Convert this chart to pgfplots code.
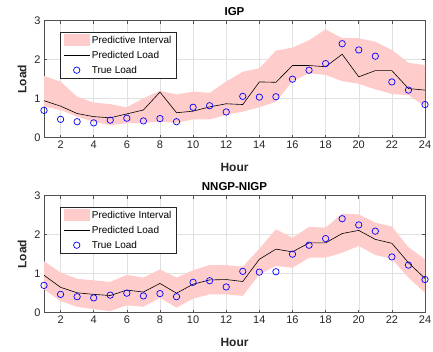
\documentclass[border=0pt]{standalone}
\usepackage{fontspec}
\setmainfont{Liberation Sans}
\usepackage{pgfplots}
\usepackage{pgfplotstable}
\pgfplotsset{compat=1.18}
\usepgfplotslibrary{fillbetween}
\definecolor{bandpink}{RGB}{255,204,204}
\definecolor{axgray}{RGB}{38,38,38}

\pgfplotstableread{
h true pA uA lA pB uB lB
1 0.70 0.95 1.58 0.80 0.96 1.32 0.60
2 0.47 0.81 1.44 0.71 0.65 1.03 0.30
3 0.41 0.62 1.05 0.54 0.51 0.87 0.15
4 0.38 0.54 0.90 0.41 0.47 0.83 0.09
5 0.45 0.51 0.86 0.32 0.44 0.79 0.04
6 0.50 0.61 0.78 0.37 0.58 0.97 0.19
7 0.43 0.71 1.01 0.38 0.53 0.90 0.15
8 0.49 1.17 1.20 0.41 0.75 1.11 0.38
9 0.41 0.64 1.11 0.38 0.50 0.90 0.13
10 0.78 0.68 1.18 0.47 0.73 1.09 0.36
11 0.82 0.79 1.15 0.47 0.84 1.22 0.47
12 0.66 0.87 1.44 0.58 0.85 1.22 0.47
13 1.06 0.85 1.69 0.67 0.80 1.18 0.43
14 1.04 1.43 1.78 0.78 1.37 1.64 0.98
15 1.05 1.42 2.23 0.92 1.63 2.14 1.20
16 1.50 1.85 2.31 1.45 1.56 1.92 1.15
17 1.73 1.85 2.50 1.65 1.79 2.20 1.41
18 1.90 1.82 2.78 1.61 1.79 2.18 1.41
19 2.41 2.14 2.55 1.45 2.03 2.54 1.54
20 2.25 1.56 2.55 1.38 2.11 2.52 1.71
21 2.09 1.72 2.46 1.24 1.88 2.31 1.48
22 1.43 1.72 2.25 1.12 1.78 2.21 1.38
23 1.22 1.26 1.92 1.09 1.28 1.68 0.90
24 0.85 1.22 1.86 0.80 0.88 1.37 0.51
}\data

\pgfplotsset{
  mystyle/.style={
    width=381pt, height=117pt, scale only axis,
    xmin=1, xmax=24, ymin=0, ymax=3,
    xtick={2,4,...,24}, ytick={0,1,2,3},
    grid=major, grid style={color=black!12, line width=0.4pt},
    axis line style={axgray!80, line width=0.5pt},
    tick style={axgray!80, line width=0.5pt},
    tick align=inside, major tick length=3pt,
    ticklabel style={font=\fontsize{11}{13}\selectfont, text=axgray},
    /pgf/number format/assume math mode=true,
    xlabel={Hour}, ylabel={Load},
    label style={font=\fontsize{12}{14}\selectfont\bfseries, text=axgray},
    xlabel style={yshift=-7pt},
    ylabel style={yshift=1pt},
    title style={font=\fontsize{11.5}{13}\selectfont\bfseries, yshift=-4pt},
    legend cell align=left,
    legend style={at={(0.043,0.906)}, anchor=north west, draw=axgray,
      line width=0.5pt, font=\fontsize{10}{12}\selectfont,
      inner ysep=2pt, inner xsep=3pt, row sep=2.2pt},
    legend image code/.code={\draw[mark repeat=2,mark phase=2] plot coordinates {(0cm,0cm)(0.45cm,0cm)(0.9cm,0cm)};},
  },
  bandstyle/.style={fill=bandpink, draw=none, area legend,
    legend image code/.code={\fill[bandpink] (0cm,-0.2cm) rectangle (0.9cm,0.22cm);}},
  predstyle/.style={black, line width=0.6pt, no markers},
  truestyle/.style={only marks, mark=o, mark size=3.2pt, blue, mark options={line width=0.7pt}},
}

\begin{document}
\begin{tikzpicture}
\begin{axis}[mystyle, at={(44pt,214.3pt)}, anchor=south west, title={IGP}]
  \addplot[name path=upA, draw=none, forget plot] table[x=h, y=uA] {\data};
  \addplot[name path=loA, draw=none, forget plot] table[x=h, y=lA] {\data};
  \addplot[bandstyle] fill between[of=upA and loA];
  \addlegendentry{Predictive Interval}
  \addplot[predstyle] table[x=h, y=pA] {\data};
  \addlegendentry{Predicted Load}
  \addplot[truestyle] table[x=h, y=true] {\data};
  \addlegendentry{True Load}
\end{axis}
\begin{axis}[mystyle, at={(44pt,39.3pt)}, anchor=south west, title={NNGP-NIGP}]
  \addplot[name path=upB, draw=none, forget plot] table[x=h, y=uB] {\data};
  \addplot[name path=loB, draw=none, forget plot] table[x=h, y=lB] {\data};
  \addplot[bandstyle] fill between[of=upB and loB];
  \addlegendentry{Predictive Interval}
  \addplot[predstyle] table[x=h, y=pB] {\data};
  \addlegendentry{Predicted Load}
  \addplot[truestyle] table[x=h, y=true] {\data};
  \addlegendentry{True Load}
\end{axis}
\pgfresetboundingbox
\useasboundingbox (0,0) rectangle (433pt,352pt);
\end{tikzpicture}
\end{document}
